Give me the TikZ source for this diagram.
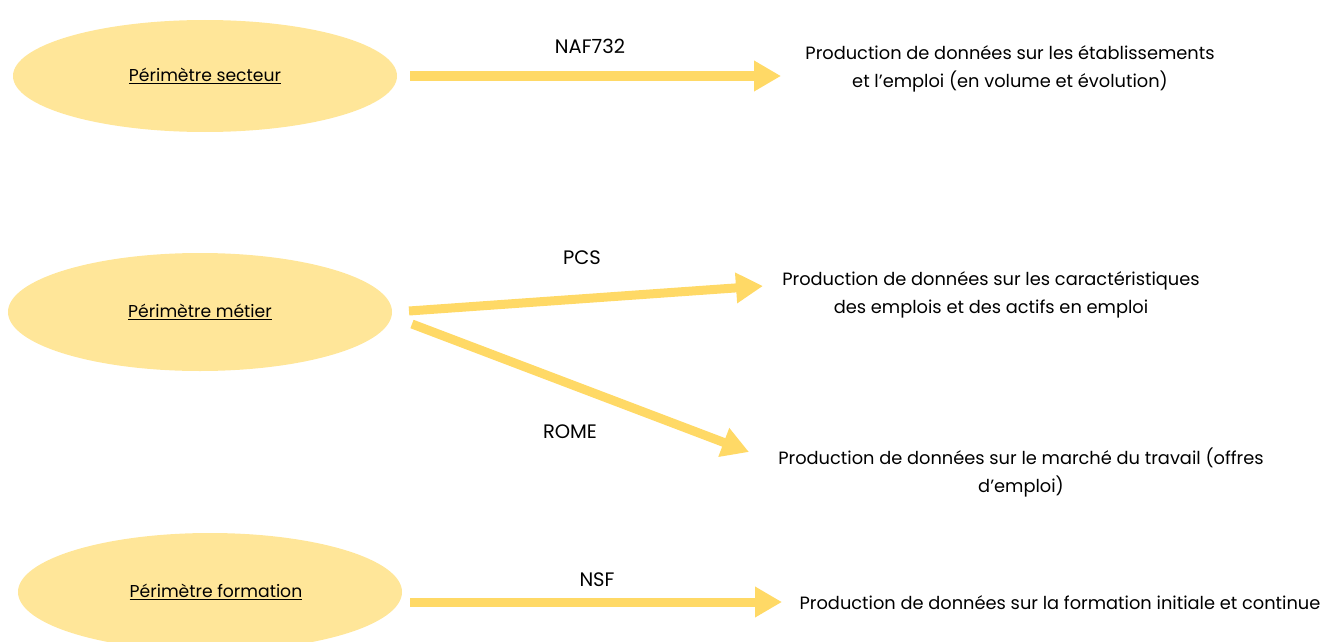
\documentclass[tikz,border=0pt]{standalone}
\usepackage{fontspec}
\setmainfont{Poppins}
\usetikzlibrary{shapes.geometric,arrows.meta}
\definecolor{ellfill}{HTML}{FFE699}
\definecolor{arrcol}{HTML}{FFD966}
\tikzset{
  perim/.style={ellipse, fill=ellfill, draw=none, minimum width=384pt, minimum height=112pt, inner sep=0pt, font=\fontsize{17.2}{20}\selectfont},
  flow/.style={draw=arrcol, line width=9pt, -{Triangle[length=27pt,width=29pt]}},
  lbl/.style={font=\fontsize{19.5}{22}\selectfont, inner sep=0pt},
  res/.style={align=center, font=\fontsize{17.8}{28}\selectfont, inner sep=0pt}
}
\begin{document}
\begin{tikzpicture}[x=1pt,y=-1pt]
\useasboundingbox (0,0) rectangle (1322,642);
\node[perim] (e1) at (205,76) {\underline{Périmètre secteur}};
\node[perim, minimum height=118pt] (e2) at (200,312) {\underline{Périmètre métier}};
\node[perim, minimum height=118pt] (e3) at (210,592) {\hspace*{12pt}\underline{Périmètre formation}};

\node[res] (r1) at (1010,69) {Production de données sur les établissements\\et l’emploi (en volume et évolution)};
\node[res] (r2) at (991,295) {Production de données sur les caractéristiques\\des emplois et des actifs en emploi};
\node[res] (r3) at (1021,472) {Production de données sur le marché du travail (offres\\d’emploi)};
\node[res] (r4) at (1060,603) {Production de données sur la formation initiale et continue};

\coordinate (a1s) at (410,76);
\coordinate (a1e) at (781,76);
\coordinate (a2s) at (409,311);
\coordinate (a2e) at (763,286);
\coordinate (a3s) at (412,324);
\coordinate (a3e) at (749,452);
\coordinate (a4s) at (410,602);
\coordinate (a4e) at (782,602);

\draw[flow] (a1s) -- (a1e);
\draw[flow] (a2s) -- (a2e);
\draw[flow] (a3s) -- (a3e);
\draw[flow] (a4s) -- (a4e);

\node[lbl] (l1) at (590,46) {NAF732};
\node[lbl] (l2) at (582,258) {PCS};
\node[lbl] (l3) at (570,432) {ROME};
\node[lbl] (l4) at (597,580) {NSF};
\end{tikzpicture}
\end{document}
